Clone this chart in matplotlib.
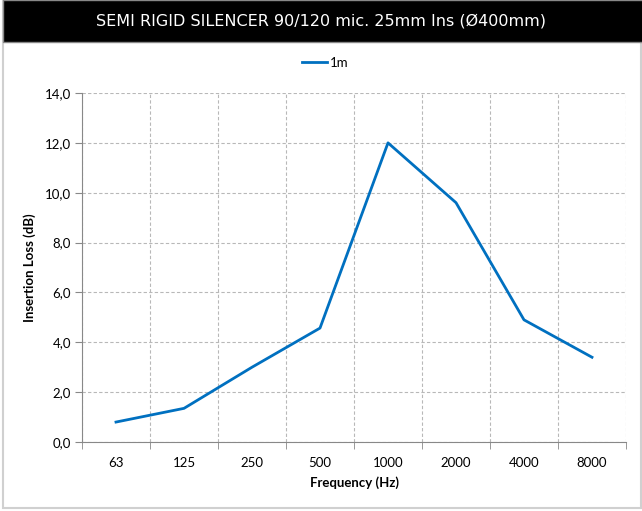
import matplotlib
matplotlib.use("Agg")
import numpy as np
import matplotlib.pyplot as plt
import matplotlib.ticker as mticker
from matplotlib.patches import Rectangle

# --- Daten ---
frequencies = ["63", "125", "250", "500", "1000", "2000", "4000", "8000"]
insertion_loss_1m = [0.8, 1.35, 3.0, 4.57, 12.0, 9.6, 4.9, 3.4]
y_ticks = [0, 2, 4, 6, 8, 10, 12, 14]

TITLE = "SEMI RIGID SILENCER 90/120 mic. 25mm Ins (Ø400mm)"
TICK_FONT = "Lato"

W, H = 642, 511
fig = plt.figure(figsize=(W / 100, H / 100), dpi=100)

# Rahmen + schwarze Titelleiste
fig.patches.append(Rectangle((3 / W, 3 / H), (W - 4) / W, (H - 4) / H,
                             transform=fig.transFigure, fill=False,
                             edgecolor="#d0d0d0", linewidth=1.5))
fig.patches.append(Rectangle((3 / W, 1 - 42 / H), 1, 42 / H,
                             transform=fig.transFigure, facecolor="black",
                             edgecolor="#888888", linewidth=1))
fig.text(0.5, 1 - 21 / H, TITLE, color="white", ha="center", va="center",
         fontsize=11.5, family="DejaVu Sans")

ax = fig.add_axes([82 / W, 1 - 442 / H, (626 - 82) / W, (442 - 93) / H])
x = np.arange(len(frequencies))
ax.plot(x, insertion_loss_1m, color="#0070C0", linewidth=2, label="1m")

ax.set_xlim(-0.5, len(frequencies) - 0.5)
ax.set_ylim(0, 14)
ax.set_yticks(y_ticks)
ax.yaxis.set_major_formatter(mticker.FuncFormatter(lambda v, p: f"{v:.1f}".replace(".", ",")))
ax.set_xticks(x)
ax.set_xticklabels(frequencies)
ax.set_xticks(np.arange(len(frequencies) + 1) - 0.5, minor=True)

ax.tick_params(axis="x", which="major", length=0, pad=11, labelsize=9.5)
ax.tick_params(axis="x", which="minor", length=5, color="#888888", direction="out")
ax.tick_params(axis="y", length=5, color="#888888", labelsize=9.5, pad=3)
for lab in ax.get_xticklabels() + ax.get_yticklabels():
    lab.set_family(TICK_FONT)

ax.grid(True, axis="y", linestyle=(0, (3, 2)), color="#b8b8b8", linewidth=0.8)
ax.grid(True, axis="x", which="minor", linestyle=(0, (3, 2)), color="#b8b8b8", linewidth=0.8)
ax.set_axisbelow(True)
for s in ["top", "right"]:
    ax.spines[s].set_visible(False)
for s in ["left", "bottom"]:
    ax.spines[s].set_color("#888888")

ax.set_ylabel("Insertion Loss (dB)", fontsize=9.5, fontweight="bold", family=TICK_FONT, labelpad=6)
ax.set_xlabel("Frequency (Hz)", fontsize=9.5, fontweight="bold", family=TICK_FONT, labelpad=5)

fig.legend(loc="center", bbox_to_anchor=(0.507, 1 - 63 / H), frameon=False,
           prop={"family": TICK_FONT, "size": 9.5}, handlelength=1.9, handletextpad=0.2)

fig.savefig("out.png", dpi=100)
